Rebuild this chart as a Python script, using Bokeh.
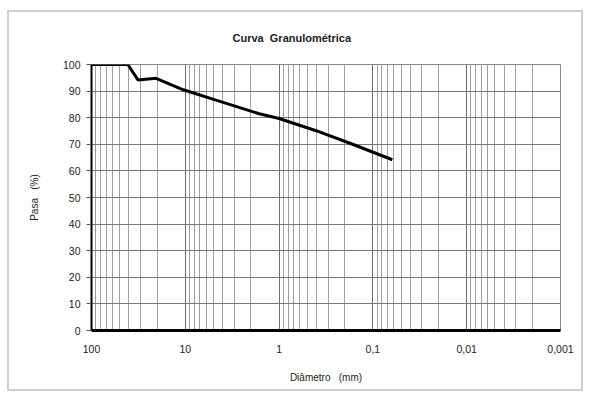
from bokeh.plotting import figure
from bokeh.models import Range1d, FixedTicker, ColumnDataSource
from bokeh.embed import file_html
from bokeh.resources import INLINE

# Data
diametro_mm = [100, 41, 32, 20.5, 10.5, 4.8, 1.63, 1.0, 0.41, 0.17, 0.062]
pasa_pct = [100, 100, 94.2, 94.8, 90.5, 86.7, 81.5, 79.7, 75.2, 70.2, 64.2]
x_ticks = [100, 10, 1, 0.1, 0.01, 0.001]
x_tick_labels = ["100", "10", "1", "0,1", "0,01", "0,001"]
y_ticks = [0, 10, 20, 30, 40, 50, 60, 70, 80, 90, 100]

minor = []
for dec in [10, 1, 0.1, 0.01, 0.001]:
    for m in range(2, 10):
        minor.append(dec * m)

FONT = "Liberation Sans"
NB = "\u00a0"

p = figure(width=576, height=381, x_axis_type="log",
           x_range=Range1d(100, 0.001), y_range=Range1d(0, 100),
           output_backend="svg", toolbar_location=None,
           min_border_left=82, min_border_right=25,
           min_border_top=52, min_border_bottom=63,
           styles={"margin-top": "10px", "margin-left": "7px",
                   "border-left": "2px solid #cfcfcf",
                   "border-top": "2px solid #cfcfcf", "border-right": "2px solid #cfcfcf",
                   "border-bottom": "2px solid #cfcfcf"})

p.title.text = "Curva" + NB * 2 + "Granulométrica"
p.title.text_font = FONT
p.title.text_font_size = "11px"
p.title.text_font_style = "bold"
p.title.text_color = "#222222"
p.title.align = "left"
p.title.vertical_align = "top"
p.title.offset = 141
p.title.standoff = 38

src = ColumnDataSource(dict(d=diametro_mm, p=pasa_pct))
p.line("d", "p", source=src, line_color="black", line_width=3)

p.xaxis.ticker = FixedTicker(ticks=x_ticks, minor_ticks=minor)
p.xaxis.major_label_overrides = {t: l for t, l in zip(x_ticks, x_tick_labels)}
p.yaxis.ticker = FixedTicker(ticks=y_ticks)

for ax in (p.xaxis, p.yaxis):
    ax.major_label_text_font = FONT
    ax.major_label_text_font_size = "10.5px"
    ax.major_label_text_color = "#222222"
    ax.axis_label_text_font = FONT
    ax.axis_label_text_font_size = "10px"
    ax.axis_label_text_font_style = "normal"
    ax.axis_label_text_color = "#222222"
    ax.minor_tick_line_color = None
    ax.major_tick_in = 0
    ax.axis_line_color = "black"

p.xaxis.axis_label = "Diâmetro" + NB * 3 + "(mm)"
p.xaxis.axis_line_width = 3
p.xaxis.major_tick_out = 0
p.xaxis.major_label_standoff = 10
p.xaxis.axis_label_standoff = 16

p.yaxis.axis_label = "Pasa" + NB * 3 + "(%)"
p.yaxis.axis_line_width = 2
p.yaxis.major_tick_out = 5
p.yaxis.major_tick_line_color = "#555555"
p.yaxis.major_label_standoff = 6
p.yaxis.axis_label_standoff = 20

p.xgrid.grid_line_color = "#6f6f6f"
p.xgrid.grid_line_width = 1
p.xgrid.minor_grid_line_color = "#a0a0a0"
p.xgrid.minor_grid_line_width = 1
p.ygrid.grid_line_color = "#777777"
p.ygrid.grid_line_width = 1

p.outline_line_color = "#888888"
p.outline_line_width = 1
p.background_fill_color = "white"
p.border_fill_color = "white"

open("out.html", "w").write(file_html(p, INLINE))
